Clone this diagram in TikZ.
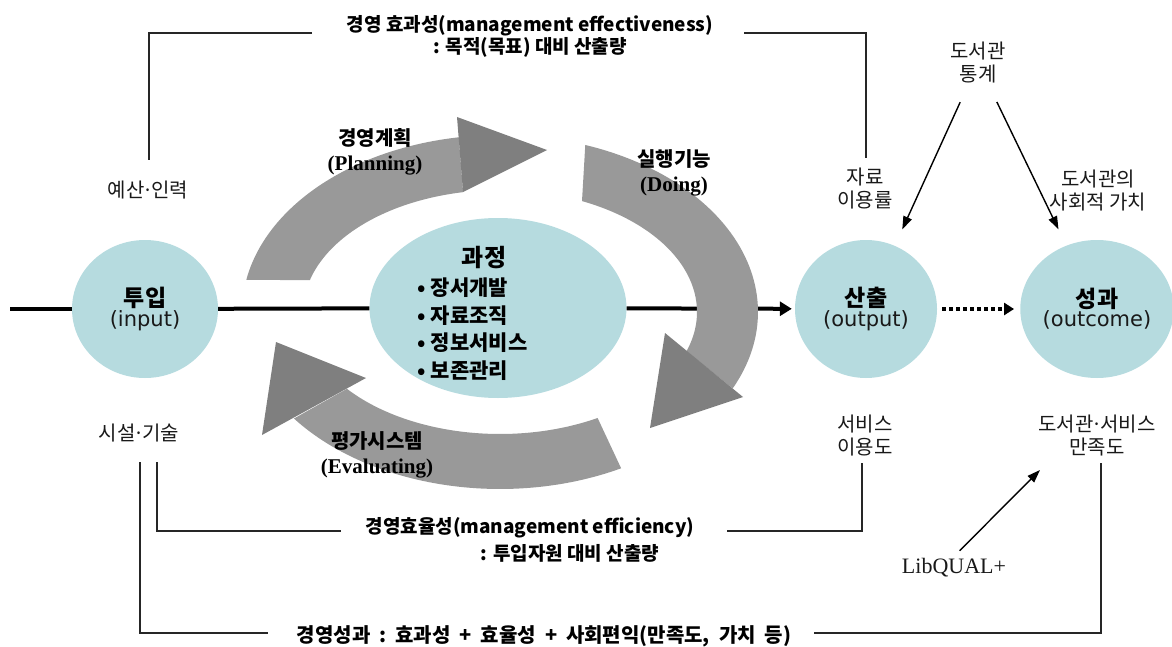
\documentclass[tikz,border=0pt]{standalone}
\usepackage{fontspec}
\newfontfamily\kr{Noto Sans CJK KR}
\newfontfamily\ser{Liberation Serif}
\newfontfamily\dvs{DejaVu Sans}
\usetikzlibrary{arrows.meta,shapes.geometric}
\definecolor{circfill}{RGB}{182,219,223}
\definecolor{bandgray}{RGB}{153,153,153}
\definecolor{tipgray}{RGB}{127,127,127}
\definecolor{ink}{RGB}{25,25,25}
\newcommand{\fs}[2]{\fontsize{#1}{#2}\selectfont}
\newcommand{\mdt}{\makebox[7pt]{·}}
\newcommand{\wsp}{\hspace{9pt}}
\begin{document}
\begin{tikzpicture}[x=1pt,y=-1pt,
  circ/.style={ellipse, fill=circfill, inner sep=0pt, align=center, font=\kr},
  lbl/.style={align=center, text=ink, font=\kr\fs{20}{23}, inner sep=2pt},
  hdlbl/.style={align=center, text=black, font=\kr\bfseries\fs{19}{22}, inner sep=2pt},
  cyc/.style={align=center, text=black, font=\kr\bfseries\fs{20}{25}, inner sep=1pt},
  bracket/.style={line width=1.3pt, draw=black!85},
  mainline/.style={line width=4pt, draw=black},
  thinarrow/.style={line width=1.4pt, draw=black, -{Triangle[length=13pt,width=9pt]}},
  bandfill/.style={fill=bandgray},
  arrtip/.style={fill=tipgray}]
\useasboundingbox (0,0) rectangle (1172,647);

% circles
\node[circ, minimum width=146pt, minimum height=138pt] (input) at (145,309)
  {{\bfseries\fs{23}{29}투입}\\{\dvs\fs{21}{29}\color{ink}(input)}};
\node[circ, minimum width=257pt, minimum height=180pt] (process) at (498,308) {};
\node[circ, minimum width=142pt, minimum height=138pt] (output) at (866,309)
  {{\bfseries\fs{23}{29}산출}\\{\dvs\fs{21}{29}\color{ink}(output)}};
\node[circ, minimum width=140pt, minimum height=138pt] (outcome) at (1097,309)
  {{\bfseries\fs{23}{29}성과}\\{\dvs\fs{21}{29}\color{ink}(outcome)}};

\node[font=\kr\bfseries\fs{24}{28}] (proct) at (484,258) {과정};
\node[anchor=west, align=left, font=\kr\bfseries\fs{21}{27.7}] (procl) at (414,329)
  {• 장서개발\\• 자료조직\\• 정보서비스\\• 보존관리};

% main line
\coordinate (lstart) at (10,309);
\draw[mainline] (lstart) -- (input);
\draw[mainline] (input) -- (process);
\draw[mainline, -{Triangle[length=12pt,width=14pt]}, shorten >=3pt] (process) -- (output);
\draw[line width=4pt, dash pattern=on 3.5pt off 3.5pt, -{Triangle[length=10pt,width=12pt]},
  shorten <=5pt, shorten >=6pt] (output) -- (outcome);

% cycle bands
\fill[bandfill] plot[domain=169.5:99.2,samples=50] ({500+258*cos(\x)},{312-177*sin(\x)})
  -- plot[domain=100.8:164.9,samples=50] ({500+197*cos(\x)},{312-122*sin(\x)}) -- cycle;
\fill[bandfill] plot[domain=70.7:-25.6,samples=60] ({500+258*cos(\x)},{312-177*sin(\x)})
  -- plot[domain=-18.8:65.4,samples=60] ({500+197*cos(\x)},{312-122*sin(\x)}) -- cycle;
\fill[bandfill] plot[domain=-62:-143,samples=60] ({500+258*cos(\x)},{312-177*sin(\x)})
  -- plot[domain=-141:-60.3,samples=60] ({500+197*cos(\x)},{312-122*sin(\x)}) -- cycle;
\fill[arrtip] (457,117) -- (463,192) -- (547,150) -- cycle;
\fill[arrtip] (665,333) -- (743,397) -- (650,428) -- cycle;
\fill[arrtip] (366,378) -- (262,435) -- (276,342) -- cycle;

\node[cyc] (plan) at (375,152) {경영계획\\{\ser\bfseries\fs{21}{25}(Planning)}};
\node[cyc] (doing) at (674,173) {실행기능\\{\ser\bfseries\fs{21}{27}(Doing)}};
\node[cyc] (eval) at (377,455) {평가시스템\\{\ser\bfseries\fs{21}{25}(Evaluating)}};

% labels
\node[hdlbl] (tit) at (530,36) {경영 효과성(management effectiveness)\\: 목적(목표) 대비 산출량};
\node[hdlbl] (eff1) at (530,528) {경영효율성(management efficiency)};
\node[hdlbl] (eff2) at (570,553) {: 투입자원 대비 산출량};
\node[hdlbl, font=\kr\bfseries\fs{20}{22}] (perf) at (544,636) {경영성과\wsp:\wsp 효과성\wsp+\wsp 효율성\wsp+\wsp 사회편익(만족도,\wsp 가치\wsp 등)};

\node[lbl] (yesan) at (148,190) {예산\mdt 인력};
\node[lbl] (siseol) at (139,433) {시설\mdt 기술};
\node[lbl] (jaryo) at (865,189) {자료\\이용률};
\node[lbl] (stat) at (978,63) {도서관\\통계};
\node[lbl] (value) at (1098,191) {도서관의\\사회적 가치};
\node[lbl] (service) at (865,436) {서비스\\이용도};
\node[lbl] (satis) at (1097,436) {도서관\mdt 서비스\\만족도};
\node[lbl, font=\ser\fs{22}{24}] (lib) at (954,568) {LibQUAL+};

% brackets
\coordinate (tA) at (312,33); \coordinate (tB) at (149,160);
\draw[bracket] (tA) -| (tB);
\coordinate (tC) at (744,33); \coordinate (tD) at (866,158);
\draw[bracket] (tC) -| (tD);
\coordinate (eA) at (157,462); \coordinate (eB) at (341,531);
\draw[bracket] (eA) |- (eB);
\coordinate (eC) at (727,531); \coordinate (eD) at (862,463);
\draw[bracket] (eC) -| (eD);
\coordinate (pA) at (140,462); \coordinate (pB) at (268,633);
\draw[bracket] (pA) |- (pB);
\coordinate (pC) at (814,633); \coordinate (pD) at (1101,463);
\draw[bracket] (pC) -| (pD);

% arrows
\draw[thinarrow, shorten <=18pt, shorten >=18pt] (stat) -- (output);
\draw[thinarrow, shorten <=18pt, shorten >=18pt] (stat) -- (outcome);
\coordinate (lqE) at (1040,470);
\draw[thinarrow, shorten <=8pt] (lib.north) -- (lqE);
\end{tikzpicture}
\end{document}
